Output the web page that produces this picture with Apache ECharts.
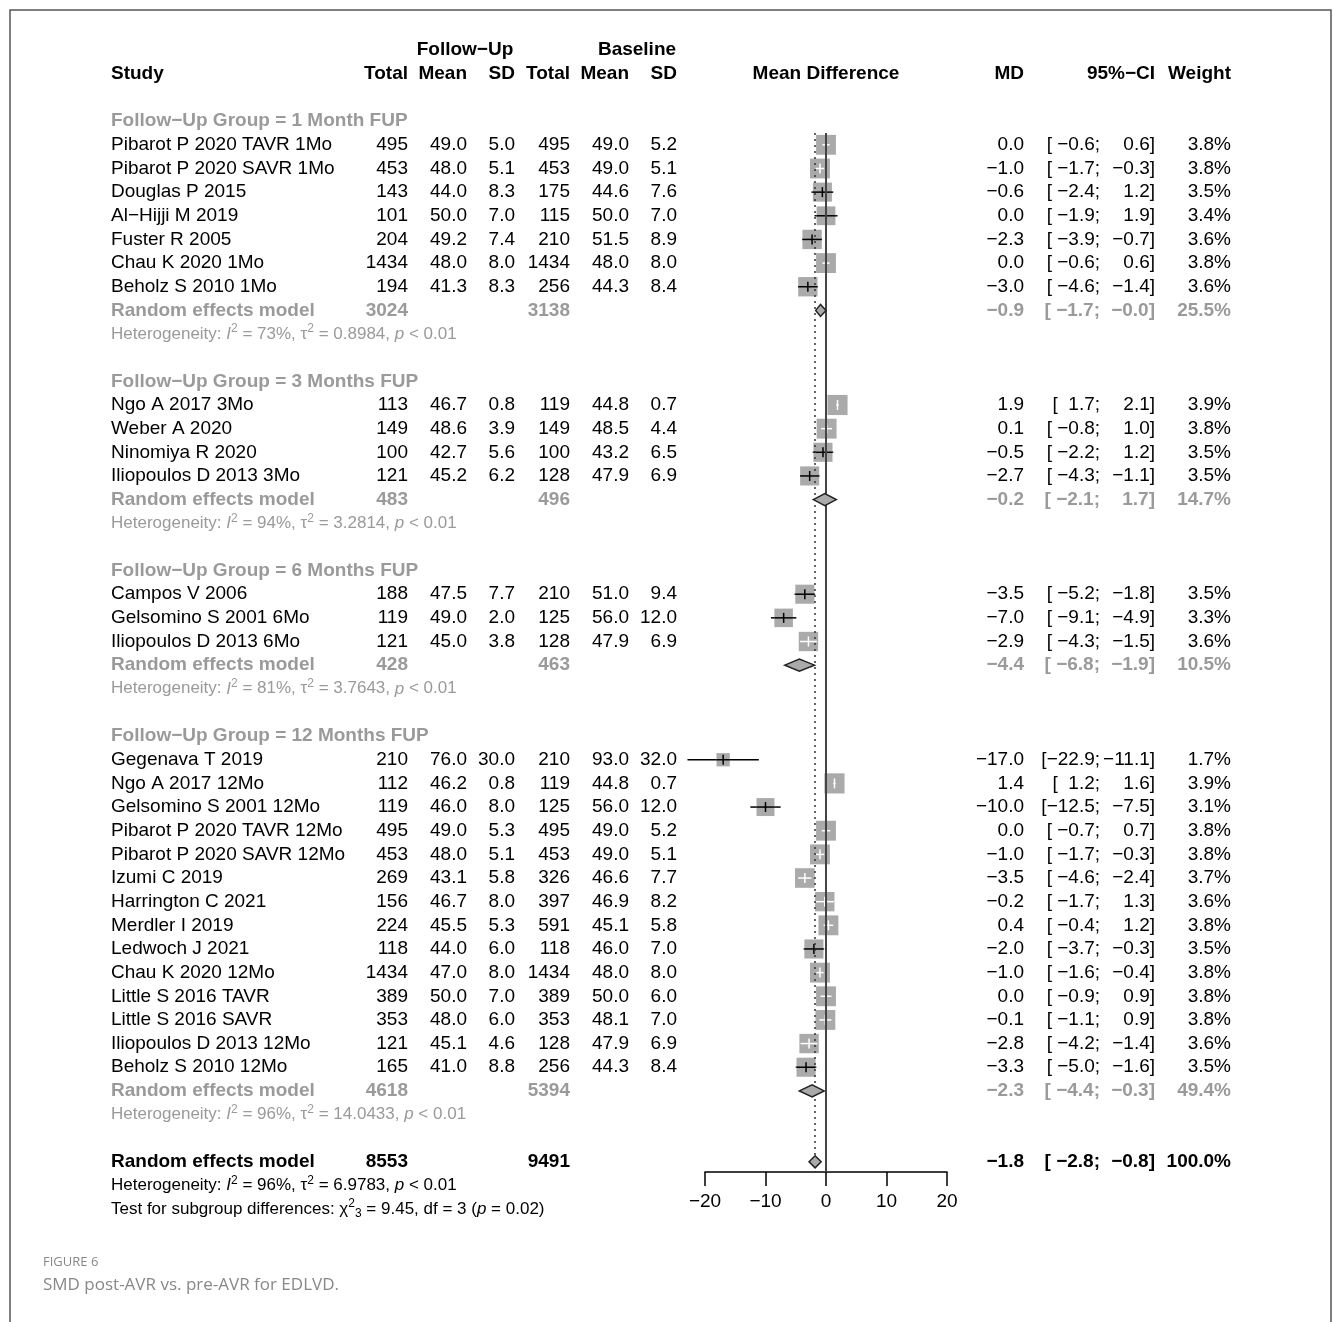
<!DOCTYPE html>
<html><head><meta charset="utf-8">
<script src="https://cdn.jsdelivr.net/npm/echarts@6/dist/echarts.min.js"></script>
<style>html,body{margin:0;padding:0;background:#fff}#chart{width:1333px;height:1322px}</style>
</head><body><div id="chart"></div>
<script>
var groupNames = ['1 Month FUP', '3 Months FUP', '6 Months FUP', '12 Months FUP'];
var studies = ['Pibarot P 2020 TAVR 1Mo','Pibarot P 2020 SAVR 1Mo','Douglas P 2015','Al\u2212Hijji M 2019','Fuster R 2005','Chau K 2020 1Mo','Beholz S 2010 1Mo',
  'Ngo A 2017 3Mo','Weber A 2020','Ninomiya R 2020','Iliopoulos D 2013 3Mo',
  'Campos V 2006','Gelsomino S 2001 6Mo','Iliopoulos D 2013 6Mo',
  'Gegenava T 2019','Ngo A 2017 12Mo','Gelsomino S 2001 12Mo','Pibarot P 2020 TAVR 12Mo','Pibarot P 2020 SAVR 12Mo','Izumi C 2019','Harrington C 2021','Merdler I 2019','Ledwoch J 2021','Chau K 2020 12Mo','Little S 2016 TAVR','Little S 2016 SAVR','Iliopoulos D 2013 12Mo','Beholz S 2010 12Mo'];
var studyGroup = [0,0,0,0,0,0,0, 1,1,1,1, 2,2,2, 3,3,3,3,3,3,3,3,3,3,3,3,3,3];
var fuTotal = [495,453,143,101,204,1434,194, 113,149,100,121, 188,119,121, 210,112,119,495,453,269,156,224,118,1434,389,353,121,165];
var fuMean = ['49.0','48.0','44.0','50.0','49.2','48.0','41.3','46.7','48.6','42.7','45.2','47.5','49.0','45.0','76.0','46.2','46.0','49.0','48.0','43.1','46.7','45.5','44.0','47.0','50.0','48.0','45.1','41.0'];
var fuSD = ['5.0','5.1','8.3','7.0','7.4','8.0','8.3','0.8','3.9','5.6','6.2','7.7','2.0','3.8','30.0','0.8','8.0','5.3','5.1','5.8','8.0','5.3','6.0','8.0','7.0','6.0','4.6','8.8'];
var blTotal = [495,453,175,115,210,1434,256, 119,149,100,128, 210,125,128, 210,119,125,495,453,326,397,591,118,1434,389,353,128,256];
var blMean = ['49.0','49.0','44.6','50.0','51.5','48.0','44.3','44.8','48.5','43.2','47.9','51.0','56.0','47.9','93.0','44.8','56.0','49.0','49.0','46.6','46.9','45.1','46.0','48.0','50.0','48.1','47.9','44.3'];
var blSD = ['5.2','5.1','7.6','7.0','8.9','8.0','8.4','0.7','4.4','6.5','6.9','9.4','12.0','6.9','32.0','0.7','12.0','5.2','5.1','7.7','8.2','5.8','7.0','8.0','6.0','7.0','6.9','8.4'];
var md = [0.0,-1.0,-0.6,0.0,-2.3,0.0,-3.0, 1.9,0.1,-0.5,-2.7, -3.5,-7.0,-2.9, -17.0,1.4,-10.0,0.0,-1.0,-3.5,-0.2,0.4,-2.0,-1.0,0.0,-0.1,-2.8,-3.3];
var lower = [-0.6,-1.7,-2.4,-1.9,-3.9,-0.6,-4.6, 1.7,-0.8,-2.2,-4.3, -5.2,-9.1,-4.3, -22.9,1.2,-12.5,-0.7,-1.7,-4.6,-1.7,-0.4,-3.7,-1.6,-0.9,-1.1,-4.2,-5.0];
var upper = [0.6,-0.3,1.2,1.9,-0.7,0.6,-1.4, 2.1,1.0,1.2,-1.1, -1.8,-4.9,-1.5, -11.1,1.6,-7.5,0.7,-0.3,-2.4,1.3,1.2,-0.3,-0.4,0.9,0.9,-1.4,-1.6];
var weight = [3.8,3.8,3.5,3.4,3.6,3.8,3.6, 3.9,3.8,3.5,3.5, 3.5,3.3,3.6, 1.7,3.9,3.1,3.8,3.8,3.7,3.6,3.8,3.5,3.8,3.8,3.8,3.6,3.5];
var remFuTotal = [3024,483,428,4618];
var remBlTotal = [3138,496,463,5394];
var remMd = [-0.9,-0.2,-4.4,-2.3];
var remLower = [-1.7,-2.1,-6.8,-4.4];
var remUpper = [-0.0,1.7,-1.9,-0.3];
var remUpperText = ['\u22120.0', '1.7', '\u22121.9', '\u22120.3'];
var remWeight = ['25.5%','14.7%','10.5%','49.4%'];
var hetI2 = ['73%','94%','81%','96%'];
var hetTau2 = ['0.8984','3.2814','3.7643','14.0433'];
var overall = {fu: 8553, bl: 9491, md: -1.8, lower: -2.8, upper: -0.8, i2: '96%', tau2: '6.9783', chi2: '9.45', df: 3, p: '0.02'};

function fmt(v) { return (v < 0 ? '\u2212' : '') + Math.abs(v).toFixed(1); }
function pad(s, n) { while (s.length < n) s = ' ' + s; return s; }

// row layout
var rows = [];
var r = 2;
groupNames.forEach(function (g, gi) {
  rows.push({r: r++, kind: 'head', g: gi});
  studyGroup.forEach(function (sg, si) { if (sg === gi) rows.push({r: r++, kind: 'study', i: si}); });
  rows.push({r: r++, kind: 'rem', g: gi});
  rows.push({r: r++, kind: 'het', g: gi});
  r++;
});
var overallRow = r;

var studyData = [], diamondData = [];
rows.forEach(function (o) {
  if (o.kind === 'study') studyData.push([md[o.i], o.r, lower[o.i], upper[o.i], weight[o.i]]);
  if (o.kind === 'rem') diamondData.push([remMd[o.g], o.r, remLower[o.g], remUpper[o.g], 0]);
});
diamondData.push([overall.md, overallRow, overall.lower, overall.upper, 1]);

var chart = echarts.init(document.getElementById('chart'));
var FONT = '"Liberation Sans", Arial, sans-serif';
chart.setOption({
  animation: false,
  grid: {left: 705, width: 242, top: 133, height: 1039},
  xAxis: {type: 'value', min: -20, max: 20, interval: 10, splitLine: {show: false},
    axisLine: {lineStyle: {color: '#000', width: 1.5}},
    axisTick: {length: 14, lineStyle: {color: '#000', width: 1.5}},
    axisLabel: {color: '#000', fontSize: 19, fontFamily: FONT, margin: 20,
      formatter: function (v) { return v < 0 ? '\u2212' + (-v) : '' + v; }}},
  yAxis: {type: 'value', inverse: true, min: 2.5, max: 46.43, show: false},
  series: [
    {type: 'line', data: [], markLine: {silent: true, symbol: 'none', label: {show: false},
      data: [{xAxis: 0, lineStyle: {color: '#444', width: 2, type: 'solid'}},
             {xAxis: overall.md, lineStyle: {color: '#333', width: 1.5, type: [2, 4]}}]}},
    {type: 'custom', data: studyData, renderItem: function (params, api) {
      var c = api.coord([api.value(0), api.value(1)]);
      var l = api.coord([api.value(2), api.value(1)])[0];
      var u = api.coord([api.value(3), api.value(1)])[0];
      var s = 10.2 * Math.sqrt(api.value(4));
      var inside = l >= c[0] - s / 2 && u <= c[0] + s / 2;
      var col = inside ? '#fff' : '#000';
      return {type: 'group', children: [
        {type: 'line', shape: {x1: l, y1: c[1], x2: u, y2: c[1]}, style: {stroke: '#000', lineWidth: 1.5}},
        {type: 'rect', shape: {x: c[0] - s / 2, y: c[1] - s / 2, width: s, height: s}, style: {fill: '#aaaaaa'}},
        {type: 'line', shape: {x1: Math.max(l, c[0] - s / 2), y1: c[1], x2: Math.min(u, c[0] + s / 2), y2: c[1]}, style: {stroke: col, lineWidth: 1.5}},
        {type: 'line', shape: {x1: c[0], y1: c[1] - 5, x2: c[0], y2: c[1] + 5}, style: {stroke: col, lineWidth: 1.5}}
      ]};
    }},
    {type: 'custom', data: diamondData, z: 5, renderItem: function (params, api) {
      var c = api.coord([api.value(0), api.value(1)]);
      var l = api.coord([api.value(2), api.value(1)])[0];
      var u = api.coord([api.value(3), api.value(1)])[0];
      var h = 6;
      return {type: 'polygon', shape: {points: [[l, c[1]], [c[0], c[1] - h], [u, c[1]], [c[0], c[1] + h]]},
        style: {fill: '#aaaaaa', stroke: '#222', lineWidth: 1.5}};
    }}
  ]
});

function py(rr) { return chart.convertToPixel({yAxisIndex: 0}, rr); }
var g = [];
function txt(x, rr, s, align, opt) {
  opt = opt || {};
  var st = {text: s, x: x, y: py(rr), textAlign: align || 'left', textVerticalAlign: 'middle',
    font: (opt.bold ? 'bold ' : '') + (opt.size || 19) + 'px ' + FONT, fill: opt.color || '#000'};
  if (opt.rich) st.rich = opt.rich;
  g.push({type: 'text', style: st});
}
var cols = {study: 111, fuT: 408, fuM: 467, fuS: 515, blT: 570, blM: 629, blS: 677, md: 1024, lo: 1100, hi: 1155, w: 1231};
function ciText(rr, loS, hiS, w, opt) {
  txt(cols.lo, rr, '[' + pad(loS, 5) + ';', 'right', opt);
  txt(cols.hi, rr, hiS + ']', 'right', opt);
  txt(cols.w, rr, w, 'right', opt);
}
var grey = '#9a9a9a';
function richFor(color) {
  return {
    it: {fontStyle: 'italic', fontSize: 17, fill: color, fontFamily: FONT},
    sup: {fontSize: 12, fill: color, fontFamily: FONT, padding: [0, 0, 10, 0]},
    sub: {fontSize: 12, fill: color, fontFamily: FONT, padding: [10, 0, 0, 0]},
    n: {fontSize: 17, fill: color, fontFamily: FONT}
  };
}
function hetStr(i2, tau2) {
  return '{n|Heterogeneity: }{it|I}{sup|2}{n| = ' + i2 + ', τ}{sup|2}{n| = ' + tau2 + ', }{it|p}{n| < 0.01}';
}
// header
txt(cols.study, 0, 'Study', 'left', {bold: true});
txt(465, -1, 'Follow\u2212Up', 'center', {bold: true});
txt(637, -1, 'Baseline', 'center', {bold: true});
[['fuT', 'Total'], ['fuM', 'Mean'], ['fuS', 'SD'], ['blT', 'Total'], ['blM', 'Mean'], ['blS', 'SD'], ['md', 'MD'], ['hi', '95%\u2212CI'], ['w', 'Weight']].forEach(function (h) {
  txt(cols[h[0]], 0, h[1], 'right', {bold: true});
});
txt(826, 0, 'Mean Difference', 'center', {bold: true});

rows.forEach(function (o) {
  if (o.kind === 'head') txt(cols.study, o.r, 'Follow\u2212Up Group = ' + groupNames[o.g], 'left', {bold: true, color: grey});
  if (o.kind === 'study') {
    var i = o.i;
    txt(cols.study, o.r, studies[i]);
    txt(cols.fuT, o.r, '' + fuTotal[i], 'right');
    txt(cols.fuM, o.r, fuMean[i], 'right');
    txt(cols.fuS, o.r, fuSD[i], 'right');
    txt(cols.blT, o.r, '' + blTotal[i], 'right');
    txt(cols.blM, o.r, blMean[i], 'right');
    txt(cols.blS, o.r, blSD[i], 'right');
    txt(cols.md, o.r, fmt(md[i]), 'right');
    ciText(o.r, fmt(lower[i]), fmt(upper[i]), weight[i].toFixed(1) + '%');
  }
  if (o.kind === 'rem') {
    var op = {bold: true, color: grey};
    txt(cols.study, o.r, 'Random effects model', 'left', op);
    txt(cols.fuT, o.r, '' + remFuTotal[o.g], 'right', op);
    txt(cols.blT, o.r, '' + remBlTotal[o.g], 'right', op);
    txt(cols.md, o.r, fmt(remMd[o.g]), 'right', op);
    ciText(o.r, fmt(remLower[o.g]), remUpperText[o.g], remWeight[o.g], op);
  }
  if (o.kind === 'het') txt(cols.study, o.r, hetStr(hetI2[o.g], hetTau2[o.g]), 'left', {size: 17, color: grey, rich: richFor(grey)});
});
var ob = {bold: true};
txt(cols.study, overallRow, 'Random effects model', 'left', ob);
txt(cols.fuT, overallRow, '' + overall.fu, 'right', ob);
txt(cols.blT, overallRow, '' + overall.bl, 'right', ob);
txt(cols.md, overallRow, fmt(overall.md), 'right', ob);
ciText(overallRow, fmt(overall.lower), fmt(overall.upper), '100.0%', ob);
txt(cols.study, overallRow + 1, hetStr(overall.i2, overall.tau2), 'left', {size: 17, rich: richFor('#000')});
txt(cols.study, overallRow + 2, '{n|Test for subgroup differences: χ}{sup|2}{sub|' + overall.df + '}{n| = ' + overall.chi2 + ', df = ' + overall.df + ' (}{it|p}{n| = ' + overall.p + ')}', 'left', {size: 17, rich: richFor('#000')});

// caption and frame
g.push({type: 'rect', shape: {x: 10, y: 10, width: 1321, height: 1330}, style: {fill: 'none', stroke: '#555', lineWidth: 1.5}});
g.push({type: 'text', style: {text: 'FIGURE 6', x: 43, y: 1262, textVerticalAlign: 'middle', font: '13px "Open Sans", sans-serif', fill: '#888'}});
g.push({type: 'text', style: {text: 'SMD post-AVR vs. pre-AVR for EDLVD.', x: 43, y: 1285, textVerticalAlign: 'middle', font: '17px "Open Sans", sans-serif', fill: '#888'}});
chart.setOption({graphic: g});
</script></body></html>
